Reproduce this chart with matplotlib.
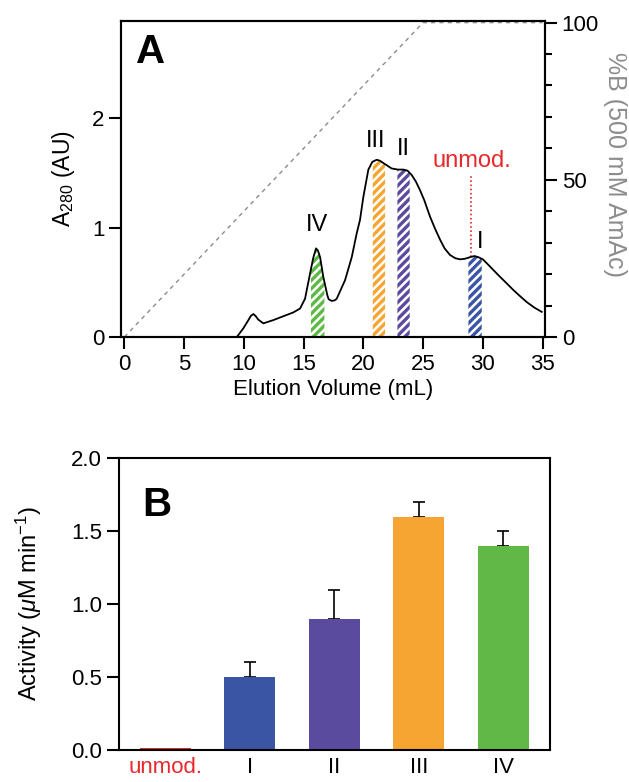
import numpy as np
import matplotlib
matplotlib.use("Agg")
import matplotlib.pyplot as plt
from matplotlib.ticker import MultipleLocator

plt.rcParams['font.family'] = ['Liberation Sans', 'DejaVu Sans']
plt.rcParams['mathtext.fontset'] = 'custom'
plt.rcParams['mathtext.rm'] = 'Liberation Sans'
plt.rcParams['mathtext.it'] = 'Liberation Sans:italic'
plt.rcParams['hatch.linewidth'] = 2.4

# %% chromatogram
volume = [9.41, 9.96, 10.38, 10.6, 10.8, 11.0, 11.2, 11.63, 12.47, 13.3, 14.14,
          14.7, 15.12, 15.54, 15.8, 16.04, 16.2, 16.38, 16.65, 16.99, 17.1,
          17.35, 17.6, 17.77, 18.47, 19.03, 19.45, 19.72, 20.0, 20.42, 20.75,
          21.12, 21.4, 21.67, 22.37, 22.9, 23.35, 23.7, 24.05, 24.4, 24.75,
          25.1, 25.58, 26.0, 26.42, 26.8, 27.25, 27.7, 28.09, 28.5, 28.93,
          29.3, 29.62, 30.0, 30.46, 30.9, 31.44, 32.0, 32.55, 33.1, 33.67,
          34.3, 34.93]
a280 = [0.0, 0.08, 0.155, 0.195, 0.21, 0.19, 0.16, 0.125, 0.155, 0.19, 0.225,
        0.26, 0.35, 0.58, 0.72, 0.81, 0.79, 0.73, 0.55, 0.38, 0.345,
        0.33, 0.335, 0.35, 0.52, 0.73, 0.95, 1.07, 1.28, 1.53, 1.60,
        1.62, 1.61, 1.59, 1.54, 1.53, 1.53, 1.52, 1.48, 1.42, 1.34,
        1.25, 1.10, 0.99, 0.89, 0.81, 0.75, 0.72, 0.71, 0.715, 0.73,
        0.74, 0.73, 0.71, 0.66, 0.61, 0.55, 0.49, 0.43, 0.375, 0.32,
        0.27, 0.23]

grad_vol = [0, 25, 35]
grad_pct = [0, 100, 100]

fractions = ['IV', 'III', 'II', 'I']
frac_lo = [15.62, 20.79, 22.85, 28.79]
frac_hi = [16.74, 21.82, 23.88, 29.91]
frac_colors = ['#5db946', '#f6a432', '#5b4b9e', '#3b55a5']
frac_label_xy = [(16.15, 1.02), (21.05, 1.79), (23.35, 1.72), (29.8, 0.87)]

unmod_vol = 29.01
unmod_top = 1.49

# %% activity
samples = ['unmod.', 'I', 'II', 'III', 'IV']
activity = [0.01, 0.5, 0.9, 1.6, 1.4]
activity_err = [0.0, 0.1, 0.2, 0.1, 0.1]
bar_colors = ['#e8282b', '#3b55a5', '#5b4b9e', '#f6a432', '#62b846']

fig = plt.figure(figsize=(6.29, 7.82), dpi=100)

# ---------------- panel A ----------------
ax = fig.add_axes([0.1924, 0.569, 0.674, 0.4045])
ax.plot(volume, a280, color='black', lw=1.3, zorder=3)

v = np.array(volume)
a = np.array(a280)
for lo, hi, c in zip(frac_lo, frac_hi, frac_colors):
    inside = (v > lo) & (v < hi)
    xs = np.concatenate([[lo], v[inside], [hi]])
    ys = np.interp(xs, v, a)
    ax.fill_between(xs, 0, ys, facecolor='none', edgecolor=c, hatch='////',
                    linewidth=0, zorder=2)

for name, (x, y) in zip(fractions, frac_label_xy):
    ax.text(x, y, name, ha='center', va='center', fontsize=17)

ax.plot([unmod_vol, unmod_vol], [np.interp(unmod_vol, v, a), unmod_top],
        color='#e8282b', ls=(0, (1, 1.5)), lw=1.2, zorder=2)
ax.text(29.07, 1.61, 'unmod.', color='#e8282b', ha='center', va='center', fontsize=17)

ax.text(0.035, 0.9, 'A', transform=ax.transAxes, fontsize=29, fontweight='bold',
        ha='left', va='center')

ax.set_xlim(-0.28, 35.2)
ax.set_ylim(0, 2.89)
ax.set_xticks(range(0, 36, 5))
ax.set_yticks([0, 1, 2])
ax.set_xlabel('Elution Volume (mL)', fontsize=16, labelpad=3)
ax.set_ylabel('A$_{280}$ (AU)', fontsize=16.5)
ax.yaxis.set_label_coords(-0.104, 0.5)
ax.tick_params(direction='out', length=8.5, width=1.5, labelsize=16)

ax2 = ax.twinx()
ax2.plot(grad_vol, grad_pct, color='#8c8c8c', ls=(0, (3, 3)), lw=1.0)
ax2.set_ylim(0, 100.6)
ax2.set_yticks([0, 50, 100])
ax2.yaxis.set_minor_locator(MultipleLocator(10))
ax2.tick_params(which='major', direction='out', length=8.5, width=1.5, labelsize=16)
ax2.tick_params(which='minor', direction='out', length=5, width=1.5)
fig.text(615 / 629, 1 - 165 / 782, '%B (500 mM AmAc)', fontsize=18, color='#8c8c8c',
         rotation=270, ha='center', va='center')
for a_ in (ax, ax2):
    for s in a_.spines.values():
        s.set_linewidth(1.5)

# ---------------- panel B ----------------
bx = fig.add_axes([0.189, 0.041, 0.685, 0.373])
pos = np.arange(len(samples))
bx.bar(pos, activity, width=0.6, color=bar_colors, zorder=2)
bx.errorbar(pos[1:], activity[1:], yerr=[np.zeros(4), activity_err[1:]],
            fmt='none', ecolor='black', elinewidth=1.2, capsize=4, capthick=1.2,
            zorder=1)
bx.set_xlim(-0.55, 4.55)
bx.set_ylim(0, 2.0)
bx.set_yticks([0, 0.5, 1.0, 1.5, 2.0])
bx.set_yticklabels(['0.0', '0.5', '1.0', '1.5', '2.0'])
bx.set_xticks(pos)
bx.set_xticklabels(samples)
bx.get_xticklabels()[0].set_color('#e8282b')
bx.tick_params(axis='x', length=0, labelsize=16, pad=5)
bx.tick_params(axis='y', direction='out', length=8.5, width=1.5, labelsize=16)
bx.set_ylabel('Activity ($\\mathit{\\mu}$M min$^{-1}$)', fontsize=17)
bx.yaxis.set_label_coords(-0.174, 0.5)
bx.text(0.055, 0.84, 'B', transform=bx.transAxes, fontsize=29, fontweight='bold',
        ha='left', va='center')
for s in bx.spines.values():
    s.set_linewidth(1.5)

fig.savefig('out.png', dpi=100)
